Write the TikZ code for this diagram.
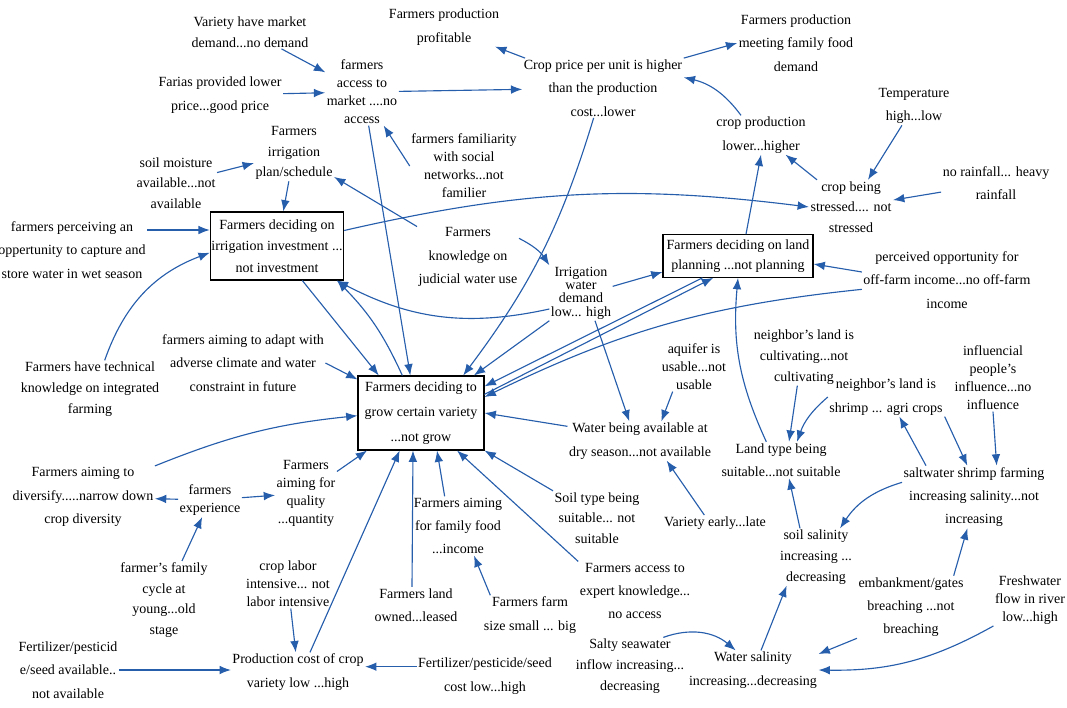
\documentclass[tikz,border=0pt]{standalone}
\usepackage{fontspec}
\setmainfont{Liberation Serif}
\usetikzlibrary{arrows.meta}
\definecolor{linkblue}{RGB}{38,94,172}
\begin{document}
\begin{tikzpicture}[x=0.75pt,y=-0.75pt,
    var/.style={align=center,inner sep=1pt,font=\fontsize{10.5}{17.5}\selectfont},
    mid/.style={var,font=\fontsize{10.5}{15.5}\selectfont},
    tight/.style={var,font=\fontsize{10.5}{13.5}\selectfont},
    box/.style={var,draw,line width=0.8pt,inner sep=0pt},
    link/.style={linkblue,line width=0.85pt,-{Latex[length=8.5pt,width=6.5pt]}}]
  \clip (0,0) rectangle (1067,707);
  \node [mid] (varmkt) at (250,32) {Variety have market\\demand...no demand};
  \node [var] (farias) at (220,95) {Farias provided lower\\price...good price};
  \node [tight] (access) at (362,92) {farmers\\access to\\market ....no\\access};
  \node [var] (profit) at (444,27) {Farmers production\\profitable};
  \node [var] (price) at (603,88) {Crop price per unit is higher\\than the production\\cost...lower};
  \node [var] (family) at (796,43) {Farmers production\\meeting family food\\demand};
  \node [mid] (irrplan) at (294,153) {Farmers\\irrigation\\plan/schedule};
  \node [mid] (soilmoist) at (176,183) {soil moisture\\available...not\\available};
  \node [tight] (familiar) at (464,166) {farmers familiarity\\with social\\networks...not\\familier};
  \node [var] (cropprod) at (761,135) {crop production\\lower...higher};
  \node [var] (temp) at (914,106) {Temperature\\high...low};
  \node [mid] (stressed) at (851,207) {crop being\\stressed.... not\\stressed};
  \node [var] (rain) at (996,183) {no rainfall... heavy\\rainfall};
  \node [var] (perceiving) at (72,250) {farmers perceiving an\\oppertunity to capture and\\store water in wet season};
  \node [box,minimum width=100pt,minimum height=51pt,font=\fontsize{10.5}{16}\selectfont] (irrbox) at (277,246) {Farmers deciding on\\irrigation investment ...\\not investment};
  \node [var] (judicial) at (468,257) {Farmers\\knowledge on\\judicial water use};
  \node [var,font=\fontsize{10.5}{10}\selectfont] (irrdemand) at (581,293) {Irrigation\\water\\demand\\low... high};
  \node [box,minimum width=112.5pt,minimum height=32pt,font=\fontsize{10.5}{15}\selectfont] (landbox) at (738,256) {Farmers deciding on land\\planning ...not planning};
  \node [var] (offfarm) at (947,280) {perceived opportunity for\\off-farm income...no off-farm\\income};
  \node [mid] (techknow) at (90,389) {Farmers have technical\\knowledge on integrated\\farming};
  \node [var] (adapt) at (243,363) {farmers aiming to adapt with\\adverse climate and water\\constraint in future};
  \node [box,minimum width=94.5pt,minimum height=55.5pt,font=\fontsize{10.5}{18.5}\selectfont] (growbox) at (421,413) {Farmers deciding to\\grow certain variety\\...not grow};
  \node [tight] (aquifer) at (694,367) {aquifer is\\usable...not\\usable};
  \node [var] (waterdry) at (640,441) {Water being available at\\dry season...not available};
  \node [mid] (neighcult) at (804,357) {neighbor's land is\\cultivating...not\\cultivating};
  \node [var] (neighshrimp) at (886,397) {neighbor's land is\\shrimp ... agri crops};
  \node [tight] (influence) at (993,378) {influencial\\people's\\influence...no\\influence};
  \node [var] (landtype) at (781,460) {Land type being\\suitable...not suitable};
  \node [var] (shrimpfarm) at (974,497) {saltwater shrimp farming\\increasing salinity...not\\increasing};
  \node [var] (diversify) at (83,497) {Farmers aiming to\\diversify.....narrow down\\crop diversity};
  \node [tight] (experience) at (210,500) {farmers\\experience};
  \node [tight] (quality) at (306,493) {Farmers\\aiming for\\quality\\...quantity};
  \node [mid] (familycycle) at (164,600) {farmer's family\\cycle at\\young...old\\stage};
  \node [tight] (laborint) at (288,584) {crop labor\\intensive... not\\labor intensive};
  \node [var] (foodincome) at (458,526) {Farmers aiming\\for family food\\...income};
  \node [mid] (soiltype) at (597,518) {Soil type being\\suitable... not\\suitable};
  \node [var] (varietyearly) at (715,523) {Variety early...late};
  \node [mid] (soilsalin) at (816,557) {soil salinity\\increasing ...\\decreasing};
  \node [var] (landowned) at (416,605) {Farmers land\\owned...leased};
  \node [var] (farmsize) at (530,615) {Farmers farm\\size small ... big};
  \node [var] (expert) at (635,591) {Farmers access to\\expert knowledge...\\no access};
  \node [var] (embank) at (911,607) {embankment/gates\\breaching ...not\\breaching};
  \node [tight] (freshwater) at (1030,600) {Freshwater\\flow in river\\low...high};
  \node [var] (fertavail) at (68,670) {Fertilizer/pesticid\\e/seed available..\\not available};
  \node [var] (prodcost) at (298,672) {Production cost of crop\\variety low ...high};
  \node [var] (fertcost) at (485,676) {Fertilizer/pesticide/seed\\cost low...high};
  \node [mid] (salty) at (630,666) {Salty seawater\\inflow increasing...\\decreasing};
  \node [var] (watersalin) at (753,670) {Water salinity\\increasing...decreasing};
  \draw [link] (varmkt) -- (access);
  \draw [link] (farias) -- (access);
  \draw [link] (access) -- (price);
  \draw [link] (price) -- (profit);
  \draw [link] (price.north east) -- (family.west);
  \draw [link] ([xshift=-15pt]cropprod.north) to[bend right=20] ([yshift=8pt]price.east);
  \draw [link] (stressed) -- (cropprod);
  \draw [link] (temp) -- (stressed);
  \draw [link] (rain) -- (stressed);
  \draw [link] (irrbox.13) to[bend left=10] (stressed.west);
  \draw [link] (familiar.west) -- (access);
  \draw [link] ([xshift=5pt]access.south) -- ([xshift=-8pt]growbox.north);
  \draw [link] (soilmoist) -- (irrplan);
  \draw [link] (irrplan) -- (irrbox);
  \draw [link] (judicial) -- (irrplan);
  \draw [link] ([yshift=14pt]judicial.east) to[bend left=15] (irrdemand.north west);
  \draw [link] ([yshift=15pt]perceiving.east) -- ([yshift=15pt]perceiving.east -| irrbox.west);
  \draw [link] ([xshift=11pt]techknow.north) to[bend left=25] ([yshift=-5pt]irrbox.west);
  \draw [link] ([yshift=-12pt]irrdemand.west) to[bend left=20] (irrbox.-30);
  \draw [link] ([xshift=19pt]irrbox.south) -- ([xshift=16pt]growbox.north west);
  \draw [link] ([xshift=-14pt]growbox.north) to[bend right=10] ([xshift=45pt]irrbox.south);
  \draw [link] ([yshift=5pt]irrdemand.east) -- ([yshift=-12pt]landbox.west);
  \draw [link] ([xshift=10.5pt]irrdemand.south) -- ([xshift=-8pt]waterdry.north);
  \draw [link] (irrdemand.south west) -- ([xshift=-8pt]growbox.north east);
  \draw [link] ([xshift=-7pt]price.south) to[bend left=10] ([xshift=-16pt]growbox.north east);
  \draw [link] ([xshift=30pt]landbox.south west) -- ([yshift=20pt]growbox.east);
  \draw [link] ([yshift=14pt]growbox.east) -- ([xshift=38pt]landbox.south west);
  \draw [link] ([yshift=-7pt]offfarm.west) to[bend right=10] ([yshift=12pt]growbox.east);
  \draw [link] ([yshift=6pt]offfarm.west) -- ([yshift=-6pt]landbox.east);
  \draw [link] ([xshift=6pt]landbox.north) -- (cropprod.south);
  \draw [link] ([xshift=-11pt]landtype.north) to[bend left=15] (landbox.south);
  \draw [link] (adapt.east) -- ([yshift=-3pt]growbox.north west);
  \draw [link] (diversify.north east) to[bend left=8] ([yshift=-2pt]growbox.west);
  \draw [link] (experience) -- (diversify);
  \draw [link] (experience) -- (quality);
  \draw [link] (familycycle) -- (experience);
  \draw [link] (quality) -- (growbox);
  \draw [link] (laborint) -- (prodcost);
  \draw [link] (fertavail.east) -- (fertavail.east -| prodcost.west);
  \draw [link] ([yshift=7pt]fertcost.west) -- ([yshift=7pt]fertcost.west -| prodcost.east);
  \draw [link] ([xshift=9pt]prodcost.north) -- ([xshift=-16pt]growbox.south);
  \draw [link] ([xshift=-3pt]landowned.north) -- ([xshift=-6pt]growbox.south);
  \draw [link] ([xshift=-10pt]foodincome.north) -- ([xshift=12pt]growbox.south);
  \draw [link] (expert.north west) -- ([xshift=27pt]growbox.south);
  \draw [link] (soiltype.north west) -- (growbox.south east);
  \draw [link] ([yshift=11pt]waterdry.west) -- (growbox.east);
  \draw [link] ([xshift=6pt]farmsize.north west) -- ([xshift=12pt]foodincome.south);
  \draw [link] ([xshift=-16pt]aquifer.south) -- ([xshift=16pt]waterdry.north);
  \draw [link] ([xshift=-8pt]varietyearly.north) -- ([xshift=20pt]waterdry.south);
  \draw [link] ([xshift=-5pt]neighcult.south) -- ([xshift=6pt]landtype.north);
  \draw [link] (neighshrimp.west) to[bend right=15] ([xshift=12pt]landtype.north);
  \draw [link] ([xshift=-36pt]shrimpfarm.north) -- ([xshift=10pt]neighshrimp.south);
  \draw [link] ([xshift=44pt]neighshrimp.south) -- ([xshift=-5pt]shrimpfarm.north);
  \draw [link] (influence.south) -- ([xshift=17pt]shrimpfarm.north);
  \draw [link] ([yshift=11pt]shrimpfarm.west) to[bend right=20] ([xshift=-10pt]soilsalin.north east);
  \draw [link] ([xshift=-12pt]soilsalin.north) -- ([xshift=6pt]landtype.south);
  \draw [link] ([xshift=6pt]watersalin.north) -- ([xshift=-22pt]soilsalin.south);
  \draw [link] ([xshift=32pt]embank.north) -- ([xshift=-5pt]shrimpfarm.south);
  \draw [link] (embank.south west) -- ([yshift=12pt]watersalin.east);
  \draw [link] (freshwater.south west) to[bend left=15] (watersalin.east);
  \draw [link] ([xshift=25pt]salty.north) to[bend left=30] ([xshift=-13pt]watersalin.north);
\end{tikzpicture}
\end{document}
